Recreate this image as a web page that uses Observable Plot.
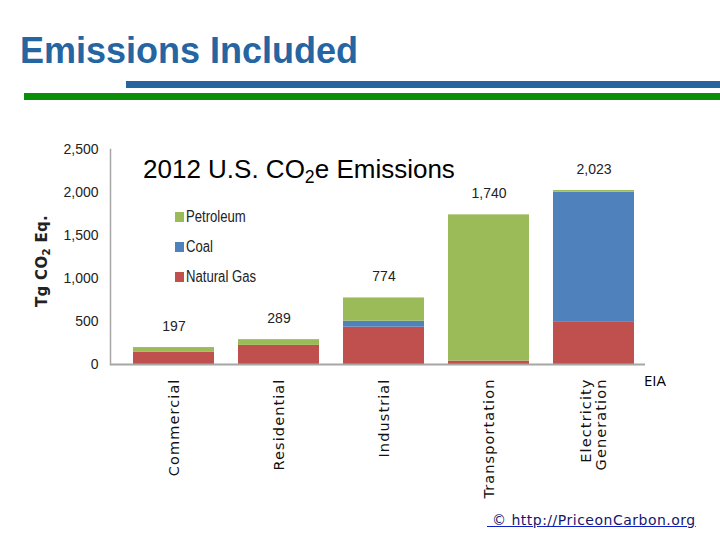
<!DOCTYPE html>
<html>
<head>
<meta charset="utf-8">
<script src="https://cdn.jsdelivr.net/npm/d3@7"></script>
<script src="https://cdn.jsdelivr.net/npm/@observablehq/plot@0.6"></script>
<style>
  html, body { margin: 0; padding: 0; background: #fff; }
  #page { position: relative; width: 720px; height: 540px; overflow: hidden; background: #fff; }
  #page > * { position: absolute; }
  #chart { left: 0; top: 0; }
  .heading { left: 20px; top: 32.5px; font: bold 36px "Liberation Sans", Arial, sans-serif; line-height: 1; color: #2565a2; white-space: nowrap; }
  .band { height: 7px; }
  .band.blue { left: 126px; top: 81px; width: 594px; background: #25659e; }
  .band.green { left: 24px; top: 93px; width: 696px; background: #0b8f0b; }
  .chart-title { left: 143px; top: 156px; font: 26px "Liberation Sans", Arial, sans-serif; line-height: 1; color: #000; white-space: nowrap; }
  .chart-title sub, .ylabel sub { font-size: 0.68em; line-height: 0; vertical-align: -0.3em; }
  .legend-item { left: 175px; height: 16px; display: flex; align-items: center; font: 16px "Liberation Sans", Arial, sans-serif; color: #222; white-space: nowrap; }
  .legend-item span.swatch { width: 9px; height: 10px; margin-right: 2px; }
  .legend-item span.name { display: inline-block; transform: scaleX(0.82); transform-origin: left center; }
  .ylabel { left: 42px; top: 261px; transform: translate(-50%, -50%) rotate(-90deg); font: bold 15px "DejaVu Sans", sans-serif; letter-spacing: 0.3px; line-height: 1; color: #222; white-space: nowrap; }
  .source { left: 644px; top: 373px; font: 15px "Open Sans", sans-serif; line-height: 1; color: #000; }
  .credit { left: 487px; top: 513px; font: 14px "DejaVu Sans", sans-serif; letter-spacing: 0.5px; line-height: 1; color: #16166e; text-decoration: underline; text-decoration-color: #1020c8; white-space: nowrap; }
</style>
</head>
<body>
<div id="page">
  <div id="chart"></div>
  <div class="heading">Emissions Included</div>
  <div class="band blue"></div>
  <div class="band green"></div>
  <div class="chart-title">2012 U.S. CO<sub>2</sub>e Emissions</div>
  <div class="ylabel">Tg CO<sub>2</sub> Eq.</div>
  <div class="source">EIA</div>
  <div class="credit">&nbsp;© http://PriceonCarbon.org</div>
</div>
<script>
// Sectors along the x axis, and the labels drawn under each bar
const sectors = ["Commercial", "Residential", "Industrial", "Transportation", "Electricity Generation"];
const sectorLabels = ["Commercial", "Residential", "Industrial", "Transportation", "Electricity\nGeneration"];

// Fuels, stacked bottom to top, with their colours
const fuels = ["Natural Gas", "Coal", "Petroleum"];
const fuelColors = ["#c0504d", "#4f81bd", "#9bbb59"];

// Emissions by fuel for each sector, Tg CO2 Eq. (2012)
const naturalGas = [145, 222, 434, 40, 490];
const coal       = [0,   0,   69,  0,  1513];
const petroleum  = [52,  67,  271, 1700, 20];

// Y axis ticks
const yTicks = [0, 500, 1000, 1500, 2000, 2500];

const series = [naturalGas, coal, petroleum];
const rows = sectors.flatMap((sector, i) =>
  fuels.map((fuel, j) => ({sector, fuel, value: series[j][i]}))
);
const totals = sectors.map((sector, i) => ({
  sector,
  total: naturalGas[i] + coal[i] + petroleum[i]
}));

const numberFont = '"Liberation Sans", Arial, sans-serif';
const fmt = d3.format(",");

const chart = Plot.plot({
  width: 720,
  height: 540,
  marginTop: 149,
  marginBottom: 176,
  marginLeft: 110,
  marginRight: 75,
  style: {background: "transparent", color: "#222", overflow: "visible"},
  x: {domain: sectors, paddingInner: 0.229, paddingOuter: 0.16, align: 0.67},
  y: {domain: [0, 2500]},
  color: {domain: fuels, range: fuelColors},
  marks: [
    Plot.barY(rows, {x: "sector", y: "value", fill: "fuel", order: fuels}),
    Plot.frame({anchor: "left", stroke: "#a6a6a6", strokeWidth: 1.5}),
    Plot.ruleY([0], {stroke: "#a6a6a6", strokeWidth: 2}),
    Plot.text(totals, {
      x: "sector", y: "total", text: d => fmt(d.total), dy: -21,
      fontSize: 14, fontFamily: numberFont, fill: "#222"
    }),
    Plot.axisY({
      ticks: yTicks, tickFormat: d => fmt(d), tickSize: 0, tickPadding: 12,
      fontSize: 14, fontFamily: numberFont, label: null
    }),
    Plot.axisX({
      tickRotate: -90, tickSize: 0, tickPadding: 14,
      tickFormat: d => sectorLabels[sectors.indexOf(d)],
      fontSize: 14.5, fontFamily: '"DejaVu Sans", sans-serif', fill: "#111", label: null
    })
  ]
});
document.getElementById("chart").appendChild(chart);

// Wider letter spacing for the rotated sector names
d3.select(chart).selectAll("g[aria-label='x-axis tick label'] text").style("letter-spacing", "1.1px");

// Legend, listed top to bottom as Petroleum, Coal, Natural Gas
const page = document.getElementById("page");
fuels.slice().reverse().forEach((fuel, k) => {
  const item = document.createElement("div");
  item.className = "legend-item";
  item.style.top = (209 + k * 30) + "px";
  const sw = document.createElement("span");
  sw.className = "swatch";
  sw.style.background = fuelColors[fuels.indexOf(fuel)];
  const name = document.createElement("span");
  name.className = "name";
  name.textContent = fuel;
  item.appendChild(sw);
  item.appendChild(name);
  page.appendChild(item);
});
</script>
</body>
</html>
